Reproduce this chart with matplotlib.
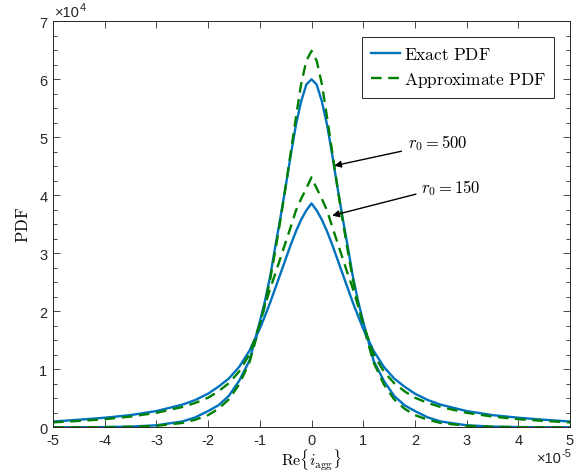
import numpy as np
import matplotlib.pyplot as plt
from matplotlib.ticker import MultipleLocator

plt.rcParams['mathtext.fontset'] = 'cm'
plt.rcParams['axes.unicode_minus'] = False
plt.rcParams['font.family'] = 'Liberation Sans'

# x in units of 1e-5, PDF in units of 1e4 (curves are symmetric about 0)
x_half = [0, 0.1, 0.2, 0.3, 0.4, 0.5, 0.6, 0.7, 0.8, 0.9, 1.0, 1.2, 1.4, 1.6,
          1.8, 2.0, 2.25, 2.5, 3.0, 3.5, 4.0, 4.5, 5.0]

exact_500 = [6.00, 5.91, 5.62, 5.22, 4.70, 4.15, 3.62, 3.12, 2.60, 2.18, 1.82,
             1.15, 0.80, 0.54, 0.38, 0.28, 0.17, 0.10, 0.035, 0.012, 0.004,
             0.0015, 0.0005]
approx_500 = [6.49, 6.32, 5.92, 5.35, 4.75, 4.15, 3.58, 3.05, 2.55, 2.12, 1.75,
              1.12, 0.74, 0.48, 0.32, 0.21, 0.13, 0.075, 0.025, 0.008, 0.003,
              0.001, 0.0003]
exact_150 = [3.86, 3.74, 3.58, 3.38, 3.15, 2.90, 2.65, 2.40, 2.15, 1.92, 1.70,
             1.32, 1.04, 0.84, 0.70, 0.58, 0.47, 0.39, 0.28, 0.21, 0.165,
             0.13, 0.10]
approx_150 = [4.31, 4.12, 3.94, 3.74, 3.46, 3.19, 2.92, 2.65, 2.39, 2.10, 1.78,
              1.26, 0.96, 0.76, 0.62, 0.51, 0.42, 0.35, 0.25, 0.185, 0.14,
              0.11, 0.085]


def mirror(h):
    h = np.asarray(h)
    return np.concatenate([h[:0:-1], h])


x = np.concatenate([-np.asarray(x_half)[:0:-1], x_half])

blue = '#0072BD'
green = '#008000'

fig = plt.figure(figsize=(5.85, 4.77), dpi=100)
ax = fig.add_axes([53 / 585, 1 - 428.3 / 477, 517 / 585, 406 / 477])

ax.plot(x, mirror(exact_500), color=blue, lw=1.7, label=r'$\mathrm{Exact\ PDF}$')
ax.plot(x, mirror(approx_500), color=green, lw=1.7, ls=(0, (4.5, 2.8)),
        label=r'$\mathrm{Approximate\ PDF}$')
ax.plot(x, mirror(exact_150), color=blue, lw=1.7)
ax.plot(x, mirror(approx_150), color=green, lw=1.7, ls=(0, (4.5, 2.8)))

ax.set_xlim(-5, 5)
ax.set_ylim(0, 7)
ax.xaxis.set_major_locator(MultipleLocator(1))
ax.yaxis.set_major_locator(MultipleLocator(1))
ax.yaxis.set_minor_locator(MultipleLocator(0.25))
ax.tick_params(which='both', direction='in', top=True, right=True,
               colors='#262626', labelsize=10.5, width=0.6)
ax.tick_params(which='major', length=5, pad=4)
ax.tick_params(which='minor', length=3)
for s in ax.spines.values():
    s.set_color('#262626')
    s.set_linewidth(0.7)

ax.set_xlabel(r'$\mathrm{Re}\{i_{\mathrm{agg}}\}$', fontsize=11.5, labelpad=0)
ax.set_ylabel(r'$\mathrm{PDF}$', fontsize=12, labelpad=6)

# exponent labels
ax.annotate('×10', xy=(0, 1), xycoords='axes fraction', xytext=(2, 2),
            textcoords='offset pixels', ha='left', va='bottom', fontsize=10.5,
            color='#262626')
ax.annotate('4', xy=(0, 1), xycoords='axes fraction', xytext=(27, 9),
            textcoords='offset pixels', ha='left', va='bottom', fontsize=8,
            color='#262626')
ax.annotate('×10', xy=(1, 0), xycoords='axes fraction', xytext=(-8, -38),
            textcoords='offset pixels', ha='right', va='bottom', fontsize=10.5,
            color='#262626')
ax.annotate('-5', xy=(1, 0), xycoords='axes fraction', xytext=(-8, -31),
            textcoords='offset pixels', ha='left', va='bottom', fontsize=8,
            color='#262626')

# r0 annotations
ax.text(1.86, 4.91, r'$r_0 = 500$', fontsize=12, va='center', ha='left')
ax.annotate('', xy=(0.44, 4.51), xytext=(1.74, 4.76),
            arrowprops=dict(arrowstyle='-|>', color='black', lw=1.0,
                            mutation_scale=10, shrinkA=0, shrinkB=0))
ax.text(2.12, 4.14, r'$r_0 = 150$', fontsize=12, va='center', ha='left')
ax.annotate('', xy=(0.40, 3.65), xytext=(2.02, 4.02),
            arrowprops=dict(arrowstyle='-|>', color='black', lw=1.0,
                            mutation_scale=10, shrinkA=0, shrinkB=0))

leg = ax.legend(loc='upper right', fontsize=12.5, fancybox=False,
                edgecolor='#262626', framealpha=1, borderaxespad=0.9,
                handlelength=1.7, handletextpad=0.2, labelspacing=0.5,
                borderpad=0.5)
leg.get_frame().set_linewidth(0.7)

fig.savefig('out.png', dpi=100)
